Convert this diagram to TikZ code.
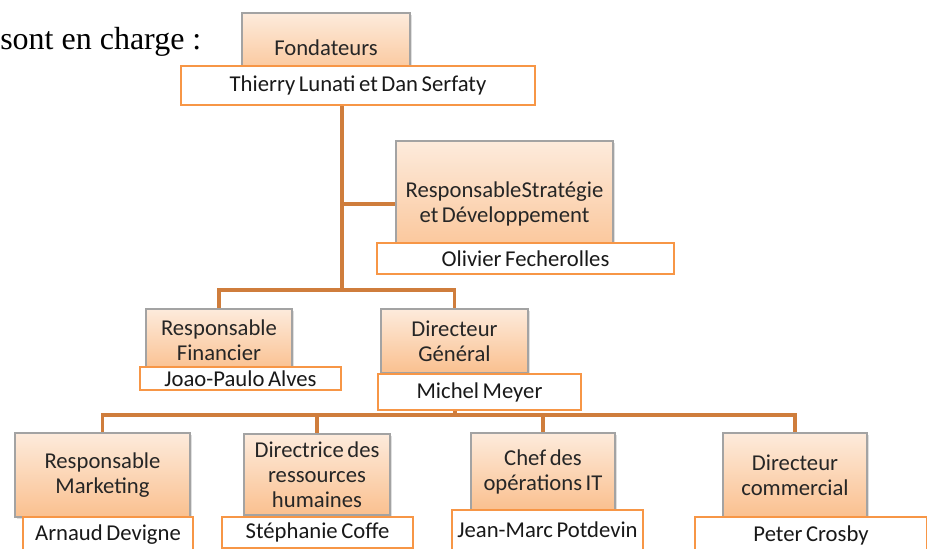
\documentclass[tikz,border=0pt]{standalone}
\usepackage{fontspec}
\setmainfont{Carlito}[WordSpace=0.7]
\newfontfamily\textserif{Liberation Serif}
\usetikzlibrary{backgrounds,shadows}
\definecolor{boxtop}{HTML}{FDEBDC}
\definecolor{boxbottom}{HTML}{FAC08F}
\definecolor{boxline}{HTML}{A3A3A3}
\definecolor{nameline}{HTML}{F79646}
\definecolor{linkline}{HTML}{CF7D3C}

\begin{document}
\begin{tikzpicture}[x=0.75pt, y=-0.75pt]
        \tikzset{
            role/.style 2 args = {draw=boxline, line width=0.9pt, top color=boxtop, bottom color=boxbottom,
                minimum width=#1*0.75pt, minimum height=#2*0.75pt, inner sep=0pt, align=center,
                font=\fontsize{17}{18.75}\selectfont, text=black!85,
                drop shadow={shadow xshift=1.5pt, shadow yshift=-1.5pt, opacity=0.25}},
            person/.style 2 args = {draw=nameline, line width=1.2pt, fill=white,
                minimum width=#1*0.75pt, minimum height=#2*0.75pt, inner sep=0pt,
                font=\fontsize{17}{18.75}\selectfont, text=black!90},
            link/.style = {draw=linkline, line width=2.8pt}
        }

        \useasboundingbox (0, 0) rectangle (927, 549);
        \clip (0, 0) rectangle (927, 549);

        \node[anchor=base west, inner sep=0pt, font=\textserif\fontsize{24}{28}\selectfont] (intro) at (0, 50) {sont en charge :};

        \node[role={168}{70}] (fond) at (326, 48) {Fondateurs};
        \node[person={354}{39}] (fondName) at (358, 85.5) {Thierry Lunati et Dan Serfaty};

        \node[role={217}{126}] (strat) at (504.5, 204) {ResponsableStratégie\\et Développement};
        \node[person={297}{31}] (stratName) at (525.5, 258.5) {Olivier Fecherolles};

        \node[role={146}{62}] (fin) at (219, 340) {Responsable\\Financier};
        \node[person={201}{23}] (finName) at (240.5, 378.5) {Joao-Paulo Alves};

        \node[role={147}{64}] (dg) at (454.5, 341) {Directeur\\Général};
        \node[person={203}{36}] (dgName) at (479.5, 392) {Michel Meyer};

        \node[role={175}{84}] (mkt) at (102.5, 475) {Responsable\\Marketing};
        \node[person={170}{36}] (mktName) at (108, 535) {Arnaud Devigne};

        \node[role={146}{81}] (rh) at (317, 474.5) {Directrice des\\ressources\\humaines};
        \node[person={191}{31}] (rhName) at (317.5, 532.5) {Stéphanie Coffe};

        \node[role={144}{77}] (it) at (543, 471.5) {Chef des\\opérations IT};
        \node[person={191}{40}] (itName) at (547.5, 530) {Jean-Marc Potdevin};

        \node[role={144}{84}] (com) at (795, 475) {Directeur\\commercial};
        \node[person={232}{36}] (comName) at (811, 535) {Peter Crosby};

        \coordinate (trunk) at (342, 290);
        \coordinate (hub) at (455, 415);

        \begin{scope}[on background layer]
            \draw[link] (trunk |- fondName.south) -- (trunk);
            \draw[link] (trunk |- strat.west) -- (strat.west);
            \draw[link] (fin.north) |- (trunk);
            \draw[link] (dg.north) |- (trunk);

            \draw[link] (dg.south) -- (hub);
            \draw[link] (mkt.north) |- (hub);
            \draw[link] (rh.north) |- (hub);
            \draw[link] (it.north) |- (hub);
            \draw[link] (com.north) |- (hub);
        \end{scope}

    \end{tikzpicture}
\end{document}
